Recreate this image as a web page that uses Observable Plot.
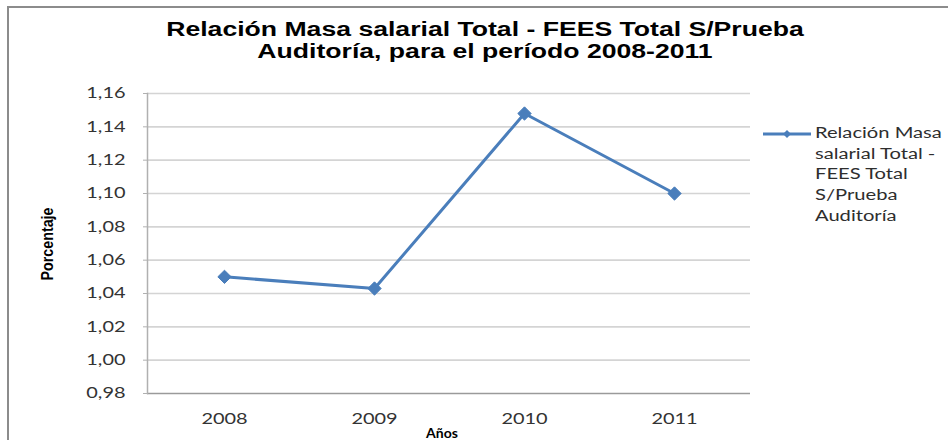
<!DOCTYPE html>
<html>
<head>
<meta charset="utf-8">
<script src="https://cdn.jsdelivr.net/npm/d3@7"></script>
<script src="https://cdn.jsdelivr.net/npm/@observablehq/plot@0.6"></script>
<style>
  html, body { margin: 0; padding: 0; background: #fff; }
  #wrap { position: relative; width: 948px; height: 440px; overflow: hidden; background: #fff; }
  #border { position: absolute; left: 7px; top: 6px; width: 950px; height: 460px; border: 2px solid #8c8c8c; box-sizing: border-box; }
  #title { position: absolute; left: 0; top: 18px; width: 970px; text-align: center; font-family: "Liberation Sans", Arial, sans-serif; font-weight: bold; font-size: 20px; line-height: 22px; color: #000; transform: scaleX(1.33); transform-origin: 485px 0; }
  #ylab { position: absolute; left: 48px; top: 244px; transform: translate(-50%, -50%) rotate(-90deg) scaleX(0.84); font-family: "Liberation Sans Narrow", "Liberation Sans", Arial, sans-serif; font-weight: bold; font-size: 17px; color: #000; white-space: nowrap; }
  #xlab { position: absolute; left: 442px; top: 432px; transform: translate(-50%, -50%); font-family: Lato, "Open Sans", sans-serif; font-weight: bold; font-size: 14px; color: #000; }
  #legend { position: absolute; left: 763px; top: 122px; }
  #legend svg { position: absolute; left: 0; top: 5px; }
  #legend .txt { position: absolute; left: 52px; top: 0; width: 130px; font-family: Lato, "Open Sans", sans-serif; font-size: 15.5px; line-height: 20.7px; color: #2e2e2e; transform: scaleX(1.3); transform-origin: 0 0; white-space: nowrap; }
  #chart { position: absolute; left: 0; top: 0; }
</style>
</head>
<body>
<div id="wrap">
  <div id="chart"></div>
  <div id="border"></div>
  <div id="title"></div>
  <div id="ylab"></div>
  <div id="xlab"></div>
  <div id="legend"></div>
</div>
<script>
const titleLines = ["Relación Masa salarial Total - FEES Total S/Prueba", "Auditoría, para el período 2008-2011"];
const years = ["2008", "2009", "2010", "2011"];
const values = [1.050, 1.043, 1.148, 1.100];
const yTicks = [0.98, 1.00, 1.02, 1.04, 1.06, 1.08, 1.10, 1.12, 1.14, 1.16];
const legendLines = ["Relación Masa", "salarial Total -", "FEES Total", "S/Prueba", "Auditoría"];
const yTitle = "Porcentaje";
const xTitle = "Años";
const lineColor = "#4a7ebb";

const data = years.map((y, i) => ({year: y, value: values[i]}));
const fmt = v => d3.format(".2f")(v).replace(".", ",");

document.getElementById("title").innerHTML = titleLines.join("<br>");
document.getElementById("ylab").textContent = yTitle;
document.getElementById("xlab").textContent = xTitle;

const chart = Plot.plot({
  width: 948,
  height: 440,
  marginTop: 93,
  marginBottom: 47,
  marginLeft: 147,
  marginRight: 198,
  style: {background: "transparent", fontFamily: "Lato, 'Open Sans', sans-serif", fontSize: "15px", color: "#333"},
  x: {type: "band", domain: years, padding: 0},
  y: {domain: [0.98, 1.16]},
  marks: [
    Plot.gridY(yTicks.filter(d => d > 0.98), {stroke: "#d4d4d4", strokeWidth: 1.6, strokeOpacity: 1}),
    Plot.ruleY([0.98], {stroke: "#9a9a9a", strokeWidth: 1.5}),
    Plot.frame({anchor: "left", stroke: "#b0b0b0", strokeWidth: 1.5}),
    Plot.axisY(yTicks, {tickSize: 4, tickPadding: 18, tickFormat: fmt, stroke: "#b0b0b0", fill: "#333", label: null, fontSize: 15}),
    Plot.axisX({tickSize: 0, tickPadding: 20, label: null, fill: "#333", fontSize: 15}),
    Plot.line(data, {x: "year", y: "value", stroke: lineColor, strokeWidth: 3}),
    Plot.dot(data, {x: "year", y: "value", symbol: "diamond2", r: 6, fill: lineColor, stroke: lineColor, strokeWidth: 1})
  ]
});
document.getElementById("chart").appendChild(chart);

// widen axis tick labels horizontally, to match the stretched reference
d3.select(chart).selectAll('g[aria-label$="tick label"] text').each(function() {
  const tr = this.getAttribute("transform") || "";
  this.setAttribute("transform", tr + " scale(1.33,1)");
});

// legend
const leg = document.getElementById("legend");
const sw = d3.create("svg").attr("width", 50).attr("height", 14);
sw.append("line").attr("x1", 0).attr("x2", 48).attr("y1", 7).attr("y2", 7).attr("stroke", lineColor).attr("stroke-width", 3);
sw.append("path").attr("d", d3.symbol(d3.symbolDiamond2, 40)()).attr("transform", "translate(24,7)").attr("fill", lineColor);
leg.appendChild(sw.node());
const t = document.createElement("div");
t.className = "txt";
t.innerHTML = legendLines.join("<br>");
leg.appendChild(t);
</script>
</body>
</html>
